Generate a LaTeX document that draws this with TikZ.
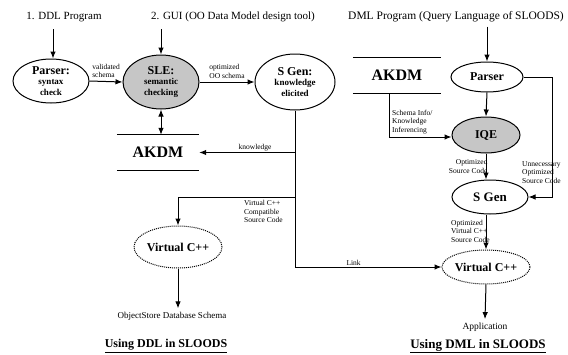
\documentclass[tikz,border=0pt]{standalone}
\usepackage{fontspec}
\setmainfont{Liberation Serif}
\usetikzlibrary{shapes.geometric,arrows.meta,positioning,calc}

\tikzset{
  proc/.style={ellipse, draw, line width=1pt, fill=white, inner sep=0pt, align=center,
    font=\fontsize{9}{10.5}\selectfont\bfseries},
  engine/.style={proc, fill=gray!45},
  virtual/.style={proc, densely dotted, font=\fontsize{12}{13}\selectfont\bfseries},
  store/.style={minimum height=35pt, inner sep=0pt, font=\fontsize{16}{18}\selectfont\bfseries},
  flow/.style={line width=1pt, -{Latex[length=7pt,width=5.5pt]}},
  flowboth/.style={line width=1pt, {Latex[length=7pt,width=5.5pt]}-{Latex[length=7pt,width=5.5pt]}},
  tag/.style={font=\fontsize{7.5}{8.5}\selectfont, inner sep=1pt, align=left},
  head/.style={font=\fontsize{11}{13}\selectfont, inner sep=1pt},
  caption/.style={font=\fontsize{12}{14}\selectfont\bfseries, inner sep=1pt},
}
\newcommand{\procname}[1]{{\fontsize{12}{13}\selectfont #1}}

\begin{document}
\begin{tikzpicture}[x=1pt, y=-1pt]
  \useasboundingbox (0,0) rectangle (568,354);

  % ---------- DDL side ----------
  \node[head] (ddl) at (64,17) {1. DDL Program};
  \node[head] (gui) at (233,17) {2. GUI (OO Data Model design tool)};

  \node[proc, minimum width=76pt, minimum height=44pt] (parserL) at (51,81)
    {\procname{Parser:}\\syntax\\check};
  \node[engine, minimum width=76pt, minimum height=54pt] (sle) at (161,82)
    {\procname{SLE:}\\semantic\\checking};
  \node[proc, minimum width=80pt, minimum height=56pt] (sgenL) at (295,82)
    {\procname{S Gen:}\\knowledge\\elicited};

  \node[store, minimum width=82pt] (akdmL) at (158,152.5) {AKDM};
  \draw[line width=1pt] (akdmL.north west) -- (akdmL.north east)
                        (akdmL.south west) -- (akdmL.south east);

  \node[virtual, minimum width=76pt, minimum height=42pt] (virtL) at (178,247) {Virtual C++};
  \node[font=\fontsize{9}{11}\selectfont] (odb) at (172,316) {ObjectStore Database Schema};
  \node[caption] (capL) at (166,346) {\underline{Using DDL in SLOODS}};

  \draw[flow] ($(parserL.north |- ddl.south)+(2,6)$) -- ($(parserL.north)+(2,0)$);
  \draw[flow] ($(sle.north |- gui.south)+(0,6)$) -- (sle.north);
  \draw[flow] (parserL.east) -- (sle.west)
    node[midway, above, tag, yshift=2pt] {validated\\schema};
  \draw[flow] (sle.east) -- (sgenL.west)
    node[midway, above, tag, yshift=2pt] {optimized\\OO schema};
  \draw[flowboth] (sle.south) -- (sle.south |- akdmL.north);

  % S Gen output trunk
  \coordinate (knJoin) at (sgenL.south |- akdmL.east);
  \coordinate (vcJoin) at ($(sgenL.south)+(0,87)$);
  \draw[flow] (knJoin) -- (akdmL.east)
    node[midway, above, tag, xshift=8pt] {knowledge};
  \draw[flow] (vcJoin) -| (virtL.north);
  \node[tag, anchor=north west] (vcTag) at ($(vcJoin)+(-52,2)$)
    {Virtual C++\\Compatible\\Source Code};
  \draw[flow] (virtL.south) -- (virtL.south |- odb.north);

  % ---------- DML side ----------
  \node[head, font=\fontsize{11.5}{13}\selectfont] (dml) at (456,17) {DML Program (Query Language of SLOODS)};

  \node[store, minimum width=88pt] (akdmR) at (397,75.5) {AKDM};
  \draw[line width=1pt] (akdmR.north west) -- (akdmR.north east)
                        (akdmR.south west) -- (akdmR.south east);

  \node[proc, minimum width=72pt, minimum height=30pt] (parserR) at (487,77) {\procname{Parser}};
  \node[engine, minimum width=68pt, minimum height=36pt] (iqe) at (486,135) {\procname{IQE}};
  \node[proc, minimum width=76pt, minimum height=34pt] (sgenR) at (490,197)
    {\fontsize{13}{14}\selectfont S Gen};
  \node[virtual, minimum width=82pt, minimum height=34pt] (virtR) at (486,267) {Virtual C++};
  \node[font=\fontsize{9.5}{11}\selectfont] (app) at (485,327) {Application};
  \node[caption, font=\fontsize{13}{15}\selectfont\bfseries] (capR) at (478,346)
    {\underline{Using DML in SLOODS}};

  \draw[flow] ($(parserR.north)+(0,-35)$) -- (parserR.north);
  \draw[flow] (parserR.south) -- (iqe.north);
  \coordinate (kdDrop) at ($(akdmR.south)+(-8,0)$);
  \draw[flow] (kdDrop) |- ($(iqe.west)+(0,2)$);
  \node[tag, anchor=south west] (kdTag) at ($(kdDrop)+(2,42)$)
    {Schema Info/\\Knowledge\\Inferencing};

  \draw[flow] (iqe.south) -- (sgenR.north -| iqe.south)
    node[midway, left, tag, align=right, xshift=3pt] {Optimized\\Source Code};
  \coordinate (bypass) at ($(sgenR.east)+(24,0)$);
  \draw[flow] (parserR.east) -| (bypass) -- (sgenR.east);
  \node[tag, anchor=north west] (bpTag) at (521,160)
    {Unnecessary\\Optimized\\Source Code};

  \draw[flow] (sgenR.south -| virtR.north) -- (virtR.north);
  \node[tag, anchor=north west] (ovTag) at (450,219)
    {Optimized\\Virtual C++\\Source Code};
  \draw[flow] (virtR.south) -- (app.north);

  % link from S Gen (DDL) to the DML runtime
  \draw[flow] (sgenL.south) |- (virtR.west)
    node[pos=0.7, above, tag] {Link};
\end{tikzpicture}
\end{document}
